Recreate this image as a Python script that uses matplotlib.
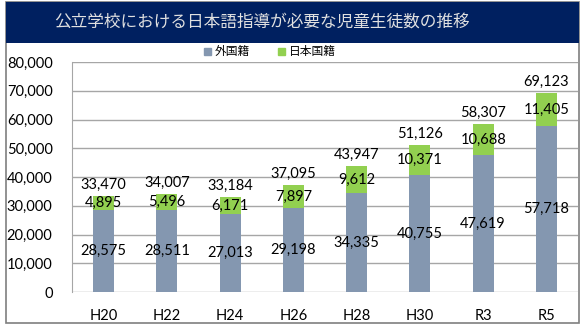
import matplotlib.pyplot as plt
import matplotlib.patches as mpatches
import numpy as np

years = ["H20", "H22", "H24", "H26", "H28", "H30", "R3", "R5"]
foreign = [28575, 28511, 27013, 29198, 34335, 40755, 47619, 57718]
japanese = [4895, 5496, 6171, 7897, 9612, 10371, 10688, 11405]
totals = [33470, 34007, 33184, 37095, 43947, 51126, 58307, 69123]

title = "公立学校における日本語指導が必要な児童生徒数の推移"
legend_labels = ["外国籍", "日本国籍"]

C_FOREIGN = "#8497B0"
C_JAPANESE = "#92D050"
C_NAVY = "#002060"
NUM_FONT = ["Lato", "DejaVu Sans"]
JP_FONT = ["Noto Sans CJK JP", "DejaVu Sans"]

W, H = 586, 329
fig = plt.figure(figsize=(W / 100, H / 100), dpi=100)

def fx(px):
    return px / W

def fy(py):
    return 1 - py / H

# outer frame and title band
fig.patches.append(mpatches.Rectangle((fx(6), fy(323)), fx(573), 321 / H, transform=fig.transFigure,
                                      facecolor="white", edgecolor="#7F7F7F", lw=1.2, zorder=-2))
fig.patches.append(mpatches.Rectangle((fx(6), fy(43)), fx(573), 41 / H, transform=fig.transFigure,
                                      facecolor=C_NAVY, edgecolor="none", zorder=-1))
fig.text(fx(262), fy(22), title, ha="center", va="center", color="#E0E0E0",
         fontsize=12, family=JP_FONT)

ax = fig.add_axes([fx(72), fy(292), fx(578 - 72), 230 / H])
ax.set_zorder(2)
x = np.arange(len(years))
bw = 0.33
ax.bar(x, foreign, bw, color=C_FOREIGN, label=legend_labels[0], zorder=2)
ax.bar(x, japanese, bw, bottom=foreign, color=C_JAPANESE, label=legend_labels[1], zorder=2)

for i in range(len(years)):
    ax.text(x[i], foreign[i] / 2, f"{foreign[i]:,}", ha="center", va="center",
            fontsize=10.5, family=NUM_FONT, color="black", zorder=3)
    ax.text(x[i], foreign[i] + japanese[i] / 2, f"{japanese[i]:,}", ha="center", va="center",
            fontsize=10.5, family=NUM_FONT, color="black", zorder=3)
    ax.annotate(f"{totals[i]:,}", (x[i], totals[i]), xytext=(0, 3), textcoords="offset points",
                ha="center", va="bottom", fontsize=10.5, family=NUM_FONT, color="black", zorder=3)

ax.set_xlim(-0.5, len(years) - 0.5)
ax.set_ylim(0, 80000)
ax.set_yticks(np.arange(0, 80001, 10000))
ax.set_yticklabels([f"{v:,}" for v in range(0, 80001, 10000)], family=NUM_FONT, fontsize=10.5)
ax.set_xticks(x)
ax.set_xticklabels(years, family=NUM_FONT, fontsize=10.5)
ax.tick_params(length=0, pad=12, axis="x")
ax.tick_params(length=0, pad=14, axis="y")
ax.grid(axis="y", color="#A6A6A6", lw=1, zorder=0)
for s in ["top", "right", "bottom"]:
    ax.spines[s].set_visible(False)
ax.spines["left"].set_color("#A6A6A6")
ax.patch.set_alpha(0)

handles = [mpatches.Patch(color=C_FOREIGN), mpatches.Patch(color=C_JAPANESE)]
fig.legend(handles, legend_labels, loc="center", bbox_to_anchor=(fx(270), fy(52)), ncol=2,
           frameon=False, prop={"family": JP_FONT, "size": 8.5}, handlelength=0.6, handleheight=0.6,
           handletextpad=0.3, columnspacing=2.4, borderpad=0)

fig.savefig("out.png", dpi=100)
